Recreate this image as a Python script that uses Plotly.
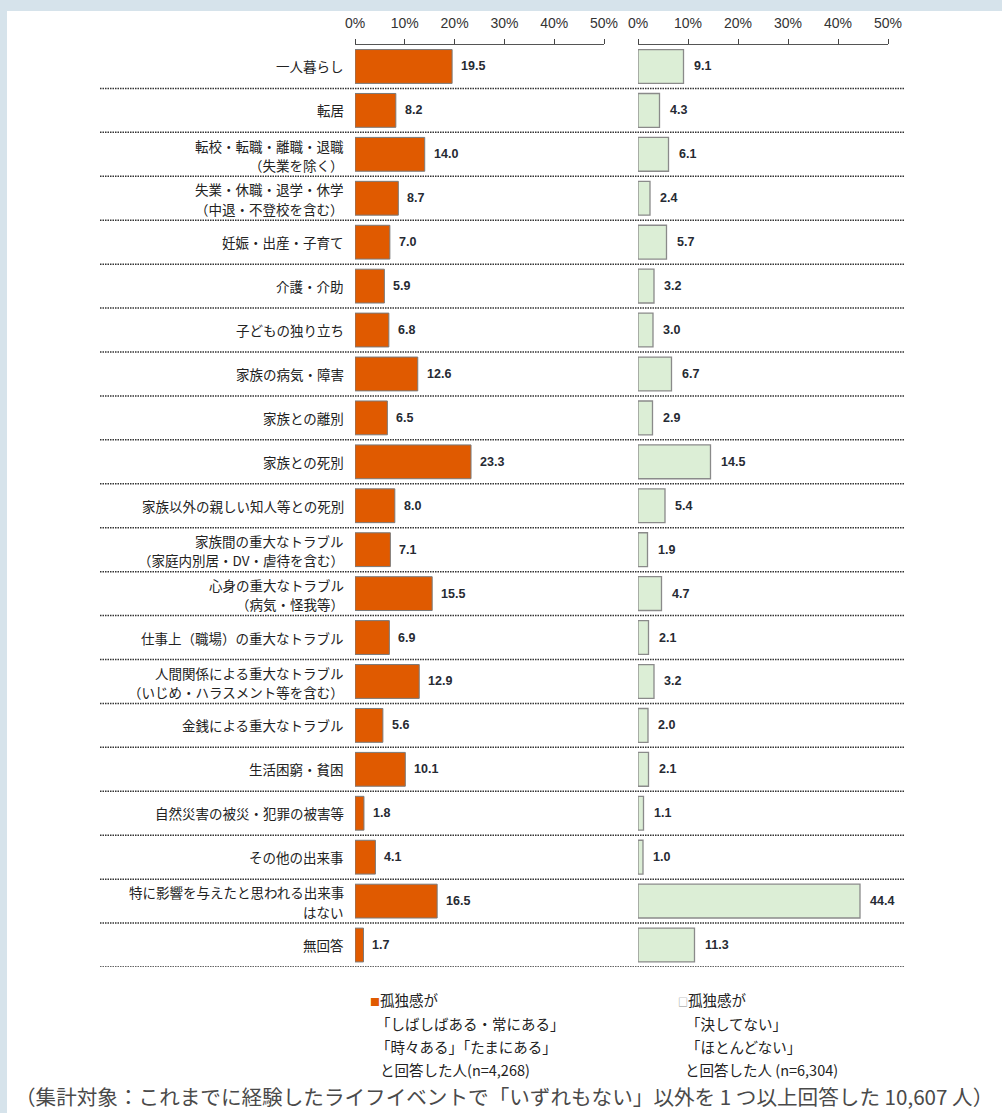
import plotly.graph_objects as go

categories = [
    "一人暮らし",
    "転居",
    "転校・転職・離職・退職<br>（失業を除く）",
    "失業・休職・退学・休学<br>（中退・不登校を含む）",
    "妊娠・出産・子育て",
    "介護・介助",
    "子どもの独り立ち",
    "家族の病気・障害",
    "家族との離別",
    "家族との死別",
    "家族以外の親しい知人等との死別",
    "家族間の重大なトラブル<br>（家庭内別居・DV・虐待を含む）",
    "心身の重大なトラブル<br>（病気・怪我等）",
    "仕事上（職場）の重大なトラブル",
    "人間関係による重大なトラブル<br>（いじめ・ハラスメント等を含む）",
    "金銭による重大なトラブル",
    "生活困窮・貧困",
    "自然災害の被災・犯罪の被害等",
    "その他の出来事",
    "特に影響を与えたと思われる出来事<br>はない",
    "無回答",
]
lonely = [19.5, 8.2, 14.0, 8.7, 7.0, 5.9, 6.8, 12.6, 6.5, 23.3, 8.0, 7.1, 15.5,
          6.9, 12.9, 5.6, 10.1, 1.8, 4.1, 16.5, 1.7]
not_lonely = [9.1, 4.3, 6.1, 2.4, 5.7, 3.2, 3.0, 6.7, 2.9, 14.5, 5.4, 1.9, 4.7,
              2.1, 3.2, 2.0, 2.1, 1.1, 1.0, 44.4, 11.3]
tick_vals = [0, 10, 20, 30, 40, 50]
tick_text = ["0%", "10%", "20%", "30%", "40%", "50%"]
legend_left = ["孤独感が", "「しばしばある・常にある」", "「時々ある」「たまにある」", "と回答した人(n=4,268)"]
legend_right = ["孤独感が", "「決してない」", "「ほとんどない」", "と回答した人 (n=6,304)"]
footnote = "（集計対象：これまでに経験したライフイベントで「いずれもない」以外を 1 つ以上回答した 10,607 人）"

W, H = 1002, 1113
def px(x):
    return x / W
def py(y):
    return 1 - y / H

ORANGE = "#E05A00"
GREEN = "#DCEED6"
JP = "Noto Sans CJK JP"
NUMFONT = "Liberation Sans, Arial"
idx = list(range(len(categories)))

fig = go.Figure()
fig.add_trace(go.Bar(
    x=lonely, y=idx, orientation="h", xaxis="x", yaxis="y",
    marker=dict(color=ORANGE, line=dict(color="#7a7a7a", width=1)),
    width=0.77, hoverinfo="x+y", showlegend=False,
))
fig.add_trace(go.Bar(
    x=not_lonely, y=idx, orientation="h", xaxis="x2", yaxis="y",
    marker=dict(color=GREEN, line=dict(color="#8a8a8a", width=1.3)),
    width=0.77, hoverinfo="x+y", showlegend=False,
))

annotations = []
shapes = []

# blue-grey frame on top and left edges
shapes.append(dict(type="rect", xref="paper", yref="paper",
                   x0=0, x1=1.0, y0=py(11), y1=1.0,
                   fillcolor="#D6E3EB", line=dict(width=0), layer="below"))
shapes.append(dict(type="rect", xref="paper", yref="paper",
                   x0=0, x1=px(7), y0=0, y1=1.0,
                   fillcolor="#D6E3EB", line=dict(width=0), layer="below"))

LINE_GAP = 19.5
for i, cat in enumerate(categories):
    lines = cat.split("<br>")
    n = len(lines)
    for k, ln in enumerate(lines):
        annotations.append(dict(
            x=px(346), y=i, xref="paper", yref="y", text=ln, showarrow=False,
            xanchor="right", yanchor="middle", align="right",
            yshift=((n - 1) / 2 - k) * LINE_GAP - (1 if n > 1 else 0),
            font=dict(family=JP, size=13.5, color="#222222"),
        ))
    annotations.append(dict(
        x=lonely[i], y=i, xref="x", yref="y", text=f"{lonely[i]:.1f}",
        showarrow=False, xanchor="left", yanchor="middle", xshift=7,
        font=dict(family=NUMFONT, size=12.5, color="#262a33", weight="bold"),
    ))
    annotations.append(dict(
        x=not_lonely[i], y=i, xref="x2", yref="y", text=f"{not_lonely[i]:.1f}",
        showarrow=False, xanchor="left", yanchor="middle", xshift=8,
        font=dict(family=NUMFONT, size=12.5, color="#262a33", weight="bold"),
    ))
    shapes.append(dict(type="line", xref="paper", yref="y",
                       x0=px(100), x1=px(905), y0=i + 0.5, y1=i + 0.5,
                       line=dict(color="#333333", width=1.5, dash="1.5px,1px")))

legend_font = dict(family=JP, size=14.5, color="#222222")
def legend_line(x, y, text):
    annotations.append(dict(x=px(x), y=py(y), xref="paper", yref="paper",
                            text=text, showarrow=False, xanchor="left",
                            yanchor="middle", font=legend_font))

ly = [999, 1023, 1046, 1069]
legend_line(368, ly[0], f"<span style='color:{ORANGE};font-size:10px'>■</span>" + legend_left[0])
legend_line(374, ly[1], legend_left[1])
legend_line(374, ly[2], legend_left[2])
legend_line(378, ly[3], legend_left[3])
legend_line(676, ly[0], "<span style='color:#8a8a8a;font-size:10px'>□</span>" + legend_right[0])
legend_line(684, ly[1], legend_right[1])
legend_line(684, ly[2], legend_right[2])
legend_line(683, ly[3], legend_right[3])

annotations.append(dict(
    x=px(504), y=py(1095.5), xref="paper", yref="paper", text=footnote,
    showarrow=False, xanchor="center", yanchor="middle",
    font=dict(family=JP, size=20.6, color="#4a4a4a"),
))

axis_common = dict(
    range=[0, 50], side="top", tickvals=tick_vals, ticktext=tick_text,
    ticks="outside", ticklen=5, tickcolor="#444444", tickwidth=1,
    showline=True, linecolor="#555555", linewidth=1, showgrid=False,
    zeroline=False, fixedrange=True, ticklabelstandoff=5, automargin=False,
    tickfont=dict(family="Liberation Sans Narrow, Liberation Sans, Arial", size=14, color="#333333"),
)

fig.update_layout(
    template="none",
    width=W, height=H, autosize=False,
    margin=dict(l=0, r=0, t=0, b=0, pad=0),
    paper_bgcolor="white",
    plot_bgcolor="rgba(0,0,0,0)",
    showlegend=False,
    xaxis=dict(domain=[px(355), px(604)], anchor="y", **axis_common),
    xaxis2=dict(domain=[px(638), px(888)], anchor="y", **axis_common),
    yaxis=dict(domain=[py(967), py(44.5)], range=[20.5, -0.5], visible=False,
               fixedrange=True, automargin=False),
    bargap=0.2,
    annotations=annotations,
    shapes=shapes,
)

fig.write_html("out.html")
